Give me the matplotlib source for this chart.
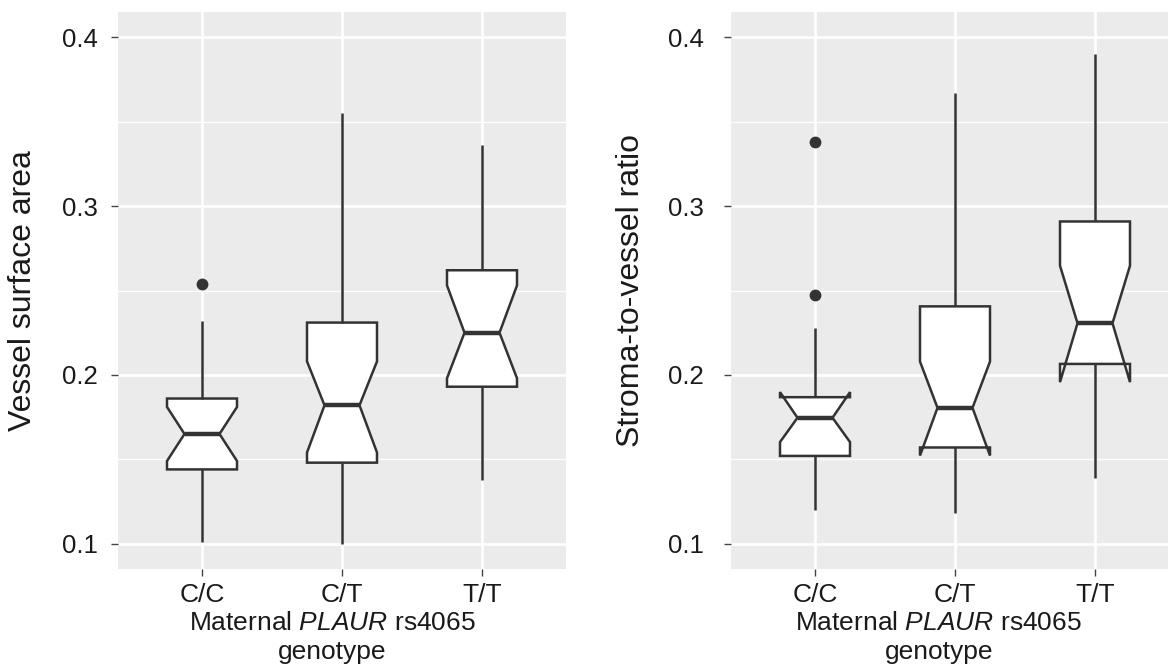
"""
Notched boxplots of placental vessel measures by maternal PLAUR rs4065 genotype.
"""
import matplotlib.pyplot as plt

plt.rcParams["font.family"] = ["Liberation Sans", "DejaVu Sans"]
plt.rcParams["mathtext.fontset"] = "custom"
plt.rcParams["mathtext.rm"] = "Liberation Sans"
plt.rcParams["mathtext.it"] = "Liberation Sans:italic"

genotypes = ["C/C", "C/T", "T/T"]

# vessel surface area (left panel)
vsa_whislo = [0.101, 0.100, 0.138]
vsa_q1 = [0.144, 0.148, 0.193]
vsa_med = [0.165, 0.182, 0.225]
vsa_q3 = [0.186, 0.231, 0.262]
vsa_whishi = [0.232, 0.355, 0.336]
vsa_cilo = [0.149, 0.154, 0.198]
vsa_cihi = [0.181, 0.208, 0.253]
vsa_fliers = [[0.254], [], []]

# stroma-to-vessel ratio (right panel)
svr_whislo = [0.120, 0.118, 0.139]
svr_q1 = [0.152, 0.157, 0.2065]
svr_med = [0.1746, 0.1805, 0.2306]
svr_q3 = [0.1868, 0.2406, 0.2909]
svr_whishi = [0.228, 0.367, 0.390]
svr_cilo = [0.1602, 0.1522, 0.1957]
svr_cihi = [0.1898, 0.2079, 0.2647]
svr_fliers = [[0.3377, 0.2475], [], []]

ylabels = ["Vessel surface area", "Stroma-to-vessel ratio"]
xlabel = "Maternal $\\mathit{PLAUR}$ rs4065\ngenotype"


def make_stats(whislo, q1, med, q3, whishi, cilo, cihi, fliers):
    return [
        dict(label=g, whislo=a, q1=b, med=c, q3=d, whishi=e, cilo=f, cihi=h, fliers=fl)
        for g, a, b, c, d, e, f, h, fl in zip(
            genotypes, whislo, q1, med, q3, whishi, cilo, cihi, fliers
        )
    ]


panels = [
    make_stats(vsa_whislo, vsa_q1, vsa_med, vsa_q3, vsa_whishi, vsa_cilo, vsa_cihi, vsa_fliers),
    make_stats(svr_whislo, svr_q1, svr_med, svr_q3, svr_whishi, svr_cilo, svr_cihi, svr_fliers),
]

fig = plt.figure(figsize=(11.68, 6.71), dpi=100)
axes = [
    fig.add_axes([0.10103, 0.15201, 0.38356, 0.83010]),
    fig.add_axes([0.62586, 0.15201, 0.38356, 0.83010]),
]

line_col = "#333333"
for ax, stats, ylab, ypad, ylab_x, xlab_x in zip(
    axes, panels, ylabels, [9.4, 14.4], [-0.178, -0.19], [0.478, 0.464]
):
    ax.set_facecolor("#EBEBEB")
    for s in ax.spines.values():
        s.set_visible(False)
    ax.set_axisbelow(True)

    ax.bxp(
        stats,
        positions=[1, 2, 3],
        widths=0.5,
        shownotches=True,
        showcaps=False,
        patch_artist=True,
        boxprops=dict(facecolor="white", edgecolor=line_col, linewidth=1.8, joinstyle="miter"),
        medianprops=dict(color=line_col, linewidth=3.2, solid_capstyle="butt"),
        whiskerprops=dict(color=line_col, linewidth=1.8, solid_capstyle="butt"),
        flierprops=dict(marker="o", markerfacecolor=line_col, markeredgecolor="none",
                        markersize=8.5),
    )

    ax.set_xlim(0.4, 3.6)
    ax.set_ylim(0.085, 0.415)
    ax.set_xticks([1, 2, 3], genotypes)
    ax.set_yticks([0.1, 0.2, 0.3, 0.4], ["0.1", "0.2", "0.3", "0.4"])
    ax.set_yticks([0.15, 0.25, 0.35], minor=True)
    ax.grid(which="major", color="white", linewidth=1.9)
    ax.grid(which="minor", axis="y", color="white", linewidth=0.95)
    ax.tick_params(which="minor", length=0)
    ax.tick_params(axis="y", which="major", length=5, width=1.0, color="#444444",
                   labelsize=18.5, labelcolor="#1a1a1a", pad=ypad)
    ax.tick_params(axis="x", which="major", length=5, width=1.0, color="#444444",
                   labelsize=19, labelcolor="#1a1a1a", pad=5)

    ax.set_ylabel(ylab, fontsize=23, color="#1a1a1a")
    ax.yaxis.set_label_coords(ylab_x, 0.5)
    ax.set_xlabel(xlabel, fontsize=19, color="#1a1a1a", linespacing=1.3)
    ax.xaxis.set_label_coords(xlab_x, -0.0746)

fig.savefig("out.png", dpi=100)
